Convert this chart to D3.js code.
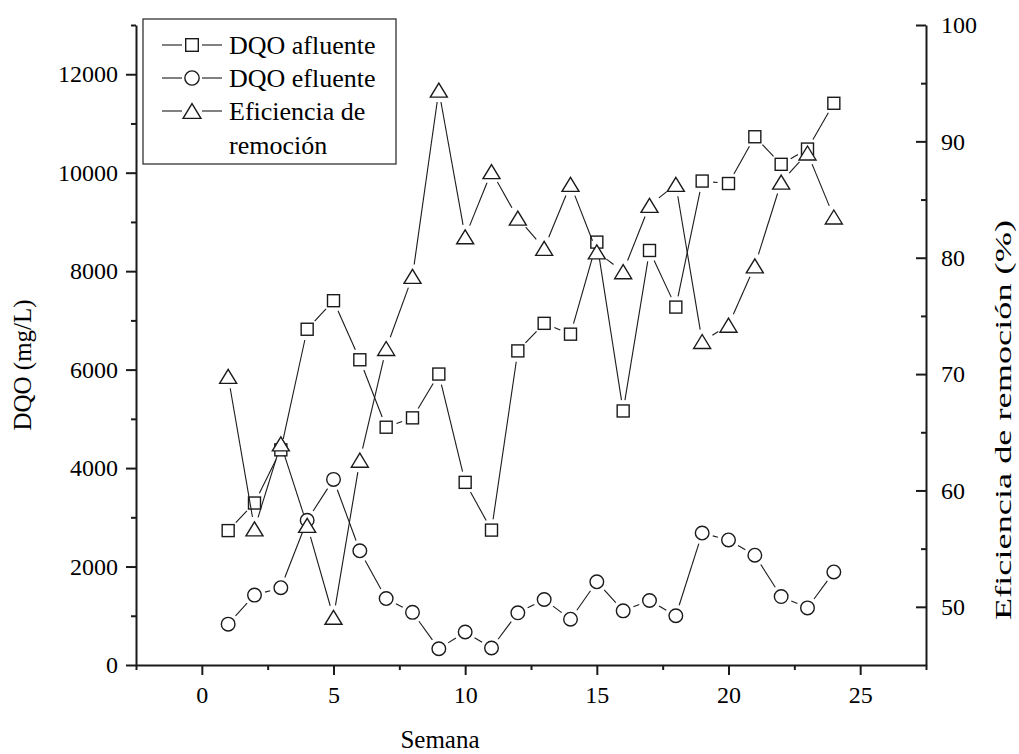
<!DOCTYPE html>
<html>
<head>
<meta charset="utf-8">
<script src="https://cdn.jsdelivr.net/npm/d3@7"></script>
<style>
  html, body { margin: 0; padding: 0; background: #fff; }
  svg { display: block; }
  text { font-family: "Liberation Serif", "Times New Roman", Times, serif; fill: #000; }
</style>
</head>
<body>
<svg id="chart" width="1019" height="754"></svg>
<script>
// ---- Data ----
const semanas = [1,2,3,4,5,6,7,8,9,10,11,12,13,14,15,16,17,18,19,20,21,22,23,24];
const dqoAfluente = [2730, 3290, 4370, 6820, 7400, 6200, 4830, 5020, 5910, 3710, 2740, 6380,
                     6940, 6720, 8590, 5160, 8420, 7270, 9830, 9780, 10730, 10170, 10480, 11410];
const dqoEfluente = [830, 1420, 1570, 2940, 3770, 2320, 1350, 1070, 330, 670, 345, 1060,
                     1330, 930, 1690, 1100, 1310, 1000, 2680, 2540, 2230, 1390, 1160, 1890];
const eficiencia = [69.8, 56.7, 64.0, 57.0, 49.1, 62.6, 72.2, 78.4, 94.4, 81.8, 87.4, 83.4,
                    80.8, 86.3, 80.5, 78.8, 84.5, 86.3, 72.8, 74.2, 79.3, 86.5, 89.0, 83.5];
const xMajorTicks = [0, 5, 10, 15, 20, 25];
const xMinorTicks = [-2.5, 2.5, 7.5, 12.5, 17.5, 22.5, 27.5];
const yLeftMajorTicks = [0, 2000, 4000, 6000, 8000, 10000, 12000];
const yLeftMinorTicks = [1000, 3000, 5000, 7000, 9000, 11000, 13000];
const yRightMajorTicks = [50, 60, 70, 80, 90, 100];
const yRightMinorTicks = [55, 65, 75, 85, 95];
const legendLabels = ["DQO afluente", "DQO efluente", ["Eficiencia de", "remoción"]];
const xTitle = "Semana";
const yLeftTitle = "DQO (mg/L)";
const yRightTitle = "Eficiencia de remoción (%)";

// ---- Layout ----
const svg = d3.select("#chart");
const L = 136, R = 926, T = 25, B = 665;
const FS = 24;
const FONT = "'Liberation Serif', 'Times New Roman', Times, serif";
const ink = "#1a1a1a";

const x = d3.scaleLinear().domain([-2.5, 27.5]).range([L, R]);
const yL = d3.scaleLinear().domain([0, 13000]).range([B, T]);
const yR = d3.scaleLinear().domain([45, 100]).range([B, T]);

svg.append("rect").attr("width", 1019).attr("height", 754).attr("fill", "#fff");

function styleAxis(g) {
  g.attr("font-family", null);
  g.selectAll("path.domain").attr("stroke", ink).attr("stroke-width", 2);
  g.selectAll(".tick line").attr("stroke", ink).attr("stroke-width", 2);
  g.selectAll(".tick text").attr("font-size", FS).style("font-family", FONT).attr("fill", "#000");
}

// Bottom axis
const gxMinor = svg.append("g").attr("transform", `translate(0,${B})`)
  .call(d3.axisBottom(x).tickValues(xMinorTicks).tickSize(5).tickFormat(""));
gxMinor.select(".domain").remove();
styleAxis(gxMinor);
const gx = svg.append("g").attr("transform", `translate(0,${B})`)
  .call(d3.axisBottom(x).tickValues(xMajorTicks).tickSize(10).tickSizeOuter(0).tickPadding(11).tickFormat(d3.format("d")));
styleAxis(gx);

// Left axis
const gyMinor = svg.append("g").attr("transform", `translate(${L},0)`)
  .call(d3.axisLeft(yL).tickValues(yLeftMinorTicks).tickSize(5).tickFormat(""));
gyMinor.select(".domain").remove();
styleAxis(gyMinor);
const gy = svg.append("g").attr("transform", `translate(${L},0)`)
  .call(d3.axisLeft(yL).tickValues(yLeftMajorTicks).tickSize(10).tickSizeOuter(0).tickPadding(8).tickFormat(d3.format("d")));
styleAxis(gy);

// Right axis (ticks pointing inward)
const gyrMinor = svg.append("g").attr("transform", `translate(${R},0)`)
  .call(d3.axisRight(yR).tickValues(yRightMinorTicks).tickSize(-5).tickFormat(""));
gyrMinor.select(".domain").remove();
styleAxis(gyrMinor);
const gyr = svg.append("g").attr("transform", `translate(${R},0)`)
  .call(d3.axisRight(yR).tickValues(yRightMajorTicks).tickSize(-10).tickSizeOuter(0).tickPadding(15).tickFormat(d3.format("d")));
styleAxis(gyr);

function addText(parent, str, size) {
  return parent.append("text").style("font-family", FONT).attr("font-size", size).text(str);
}

// Axis titles
addText(svg, xTitle, 25).attr("x", 440).attr("y", 748).attr("text-anchor", "middle");
addText(svg, yLeftTitle, 25).attr("transform", `translate(31,365) rotate(-90)`).attr("text-anchor", "middle");
addText(svg, yRightTitle, 24).attr("transform", `translate(1011,420) rotate(-90)`).attr("text-anchor", "middle")
  .attr("textLength", 400).attr("lengthAdjust", "spacingAndGlyphs");

// ---- Marker shapes ----
function drawMarker(g, type, cx, cy, scale = 1) {
  if (type === "square") {
    const s = 12 * scale;
    g.append("rect").attr("x", cx - s / 2).attr("y", cy - s / 2).attr("width", s).attr("height", s)
      .attr("fill", "#fff").attr("stroke", ink).attr("stroke-width", 1.4);
  } else if (type === "circle") {
    g.append("circle").attr("cx", cx).attr("cy", cy).attr("r", 6.8 * scale)
      .attr("fill", "#fff").attr("stroke", ink).attr("stroke-width", 1.4);
  } else {
    const hw = 8.5 * scale, hh = 7 * scale;
    g.append("path").attr("d", `M${cx},${cy - hh}L${cx + hw},${cy + hh}L${cx - hw},${cy + hh}Z`)
      .attr("fill", "#fff").attr("stroke", ink).attr("stroke-width", 1.4);
  }
}

// Lines with gaps near the markers
function drawSeries(values, yScale, type, gap) {
  const g = svg.append("g");
  const pts = semanas.map((w, i) => [x(w), yScale(values[i])]);
  for (let i = 0; i < pts.length - 1; i++) {
    const [x1, y1] = pts[i], [x2, y2] = pts[i + 1];
    const dx = x2 - x1, dy = y2 - y1, len = Math.hypot(dx, dy);
    if (len <= 2 * gap + 1) continue;
    const ux = dx / len, uy = dy / len;
    g.append("line")
      .attr("x1", x1 + ux * gap).attr("y1", y1 + uy * gap)
      .attr("x2", x2 - ux * gap).attr("y2", y2 - uy * gap)
      .attr("stroke", ink).attr("stroke-width", 1.1);
  }
  pts.forEach(([px, py]) => drawMarker(g, type, px, py));
}

drawSeries(dqoAfluente, yL, "square", 11);
drawSeries(dqoEfluente, yL, "circle", 11);
drawSeries(eficiencia, yR, "triangle", 12);

// ---- Legend ----
const lg = svg.append("g");
lg.append("rect").attr("x", 143).attr("y", 19).attr("width", 253).attr("height", 145)
  .attr("fill", "#fff").attr("stroke", "#333").attr("stroke-width", 1.3);
const types = ["square", "circle", "triangle"];
const rowY = [45, 78, 111];
types.forEach((t, i) => {
  const cy = rowY[i];
  lg.append("line").attr("x1", 162).attr("x2", 182).attr("y1", cy).attr("y2", cy).attr("stroke", ink).attr("stroke-width", 1.1);
  lg.append("line").attr("x1", 202).attr("x2", 222).attr("y1", cy).attr("y2", cy).attr("stroke", ink).attr("stroke-width", 1.1);
  drawMarker(lg, t, 192, cy, 1.05);
  const lab = legendLabels[i];
  const lines = Array.isArray(lab) ? lab : [lab];
  lines.forEach((s, k) => {
    addText(lg, s, 26).attr("x", 229).attr("y", cy + 9 + k * 33.5);
  });
});
</script>
</body>
</html>
